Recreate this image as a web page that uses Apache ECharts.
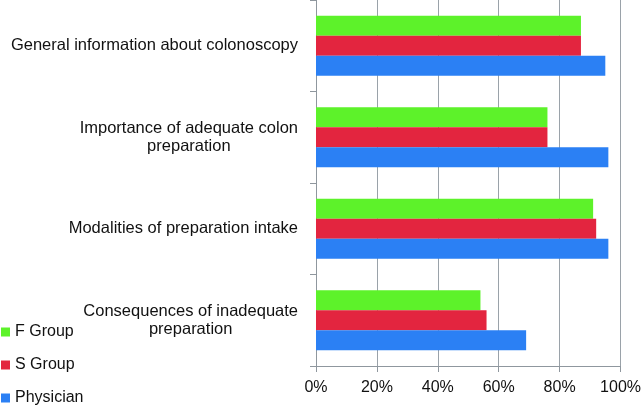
<!DOCTYPE html>
<html><head><meta charset="utf-8">
<script src="https://cdn.jsdelivr.net/npm/echarts@6/dist/echarts.min.js"></script>
<style>html,body{margin:0;padding:0;background:#fff}#c{width:644px;height:407px}</style>
</head><body><div id="c"></div>
<script>
const categories = [
  "General information about colonoscopy",
  "Importance of adequate colon\npreparation",
  "Modalities of preparation intake",
  "Consequences of inadequate\npreparation"
];
const fGroup = [87, 76, 91, 54];
const sGroup = [87, 76, 92, 56];
const physician = [95, 96, 96, 69];
const xTicks = [0, 20, 40, 60, 80, 100];

const chart = echarts.init(document.getElementById('c'), null, {renderer: 'canvas'});
const font = "'Liberation Sans', Arial, Helvetica, sans-serif";
chart.setOption({
  animation: false,
  color: ['#5DF22A', '#E3253F', '#2B80F4'],
  grid: {left: 316, right: 22, top: 0, bottom: 41, containLabel: false},
  legend: {
    orient: 'vertical', left: 1, top: 324, padding: 0, height: 100,
    icon: 'rect', itemWidth: 9, itemHeight: 9, itemGap: 17,
    textStyle: {fontFamily: font, fontSize: 16, color: '#111', lineHeight: 16},
    data: ['F Group', 'S Group', 'Physician']
  },
  xAxis: {
    type: 'value', min: xTicks[0], max: xTicks[xTicks.length - 1], interval: 20,
    axisLine: {show: true, lineStyle: {color: '#8f979e', width: 1}},
    axisTick: {show: true, length: 6, lineStyle: {color: '#8f979e'}},
    splitLine: {show: true, lineStyle: {color: '#9aa2a9', width: 1}},
    axisLabel: {formatter: '{value}%', fontFamily: font, fontSize: 16, color: '#111', margin: 14}
  },
  yAxis: {
    type: 'category', inverse: true, data: categories,
    axisLine: {show: true, lineStyle: {color: '#8f979e', width: 1}},
    axisTick: {show: true, length: 6, lineStyle: {color: '#8f979e'}},
    axisLabel: {
      margin: 18, fontFamily: font, fontSize: 16.5, color: '#111', lineHeight: 18,
      formatter: v => v.split('\n').map(s => '{c|' + s + '}').join('\n'),
      rich: {c: {align: 'center', fontFamily: font, fontSize: 16.5, color: '#111', lineHeight: 18}}
    }
  },
  series: [
    {name: 'F Group', type: 'bar', data: fGroup, barWidth: 20, barGap: '0%'},
    {name: 'S Group', type: 'bar', data: sGroup, barWidth: 20, barGap: '0%'},
    {name: 'Physician', type: 'bar', data: physician, barWidth: 20, barGap: '0%'}
  ]
});
</script></body></html>
